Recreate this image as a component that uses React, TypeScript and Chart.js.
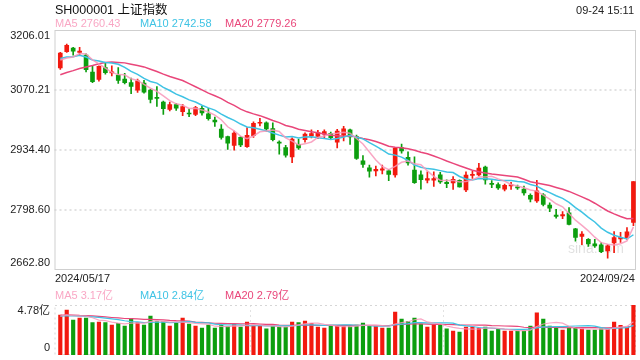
import React, { useEffect, useRef } from "react";
import { Chart, registerables } from "chart.js";
Chart.register(...registerables);

const FONT = '"Liberation Sans", Arial, "Noto Sans CJK SC", sans-serif';
const RED = "#f2190f";
const GREEN = "#0c9e0e";
const MA5_COLOR = "rgba(248,150,186,0.85)";
const MA10_COLOR = "#3fc3e4";
const MA20_COLOR = "#e9467a";

const titleText = "SH000001 上证指数";
const timeText = "09-24 15:11";
const priceLegend = ["MA5 2760.43", "MA10 2742.58", "MA20 2779.26"];
const volumeLegend = ["MA5 3.17亿", "MA10 2.84亿", "MA20 2.79亿"];
const firstDate = "2024/05/17";
const lastDate = "2024/09/24";

const dates = [
  "05/17",
  "05/20", "05/21", "05/22", "05/23", "05/24",
  "05/27", "05/28", "05/29", "05/30", "05/31",
  "06/03", "06/04", "06/05", "06/06", "06/07",
  "06/11", "06/12", "06/13", "06/14",
  "06/17", "06/18", "06/19", "06/20", "06/21",
  "06/24", "06/25", "06/26", "06/27", "06/28",
  "07/01", "07/02", "07/03", "07/04", "07/05",
  "07/08", "07/09", "07/10", "07/11", "07/12",
  "07/15", "07/16", "07/17", "07/18", "07/19",
  "07/22", "07/23", "07/24", "07/25", "07/26",
  "07/29", "07/30", "07/31", "08/01", "08/02",
  "08/05", "08/06", "08/07", "08/08", "08/09",
  "08/12", "08/13", "08/14", "08/15", "08/16",
  "08/19", "08/20", "08/21", "08/22", "08/23",
  "08/26", "08/27", "08/28", "08/29", "08/30",
  "09/02", "09/03", "09/04", "09/05", "09/06",
  "09/09", "09/10", "09/11", "09/12", "09/13",
  "09/18", "09/19", "09/20",
  "09/23", "09/24",
];

const opens = [
  3120, 3157, 3165, 3155, 3149, 3111, 3094, 3121, 3109, 3104,
  3095, 3087, 3070, 3086, 3070, 3052, 3043, 3026, 3037, 3021,
  3017, 3015, 3029, 3016, 3002, 2982, 2965, 2945, 2963, 2942,
  2967, 2995, 2996, 2983, 2952, 2940, 2919, 2947, 2958, 2966,
  2965, 2970, 2972, 2952, 2968, 2980, 2965, 2910, 2894, 2887,
  2889, 2887, 2878, 2940, 2918, 2889, 2878, 2866, 2866, 2878,
  2861, 2860, 2866, 2844, 2877, 2878, 2896, 2859, 2856, 2846,
  2853, 2851, 2846, 2832, 2819, 2833, 2810, 2787, 2785, 2792,
  2756, 2739, 2732, 2722, 2720, 2706, 2724, 2733, 2736, 2770.75,
];
const highs = [
  3155.5, 3174.27, 3167, 3167, 3152, 3125, 3125, 3131, 3125, 3121,
  3108, 3097, 3095, 3092, 3072, 3078, 3045, 3043, 3040, 3038,
  3027, 3033, 3033, 3029, 3009, 2992, 2966, 2977, 2965, 2985,
  2998, 3006, 2998, 2996, 2955, 2945, 2962, 2959, 2973, 2980,
  2979, 2980, 2975, 2981, 2988, 2982, 2968, 2922, 2900, 2898,
  2900, 2890, 2940, 2948, 2930, 2919, 2887, 2885, 2885, 2884,
  2867, 2874, 2867, 2885, 2886, 2904, 2898, 2865, 2860, 2857,
  2861, 2855, 2853, 2835, 2866, 2836, 2815, 2800, 2795, 2804,
  2757, 2750, 2734, 2732, 2725, 2721, 2750, 2748, 2759, 2863.13,
];
const lows = [
  3117, 3155, 3149, 3150, 3111, 3087, 3090, 3106, 3102, 3085,
  3084, 3062, 3065, 3063, 3041, 3033, 3015, 3023, 3024, 3012,
  3010, 3012, 3013, 3002, 2988, 2959, 2936, 2934, 2942, 2940,
  2963, 2989, 2977, 2955, 2925, 2918, 2906, 2936, 2952, 2962,
  2960, 2962, 2958, 2939, 2955, 2947, 2913, 2895, 2873, 2876,
  2880, 2865, 2873, 2927, 2900, 2859, 2846, 2860, 2852, 2859,
  2849, 2845, 2850, 2840, 2870, 2876, 2857, 2849, 2845, 2842,
  2845, 2845, 2832, 2817, 2816, 2808, 2795, 2780, 2779, 2765,
  2728, 2720, 2716, 2714, 2702, 2689.7, 2702, 2725, 2732, 2763,
];
const closes = [
  3154.03, 3171.15, 3157.97, 3158.54, 3116.39, 3088.87, 3124.04, 3109.57, 3111.02, 3091.68,
  3086.81, 3078.49, 3091.2, 3065.4, 3048.79, 3051.28, 3028.05, 3037.47, 3028.92, 3032.63,
  3015.89, 3030.25, 3018.05, 3005.44, 2998.14, 2963.1, 2950.0, 2972.53, 2945.85, 2967.4,
  2994.73, 2997.01, 2982.38, 2957.57, 2949.94, 2922.45, 2959.37, 2939.36, 2970.39, 2971.3,
  2974.01, 2976.3, 2962.58, 2977.13, 2982.31, 2964.22, 2915.37, 2901.95, 2886.43, 2890.9,
  2891.85, 2879.3, 2938.75, 2932.39, 2905.34, 2860.7, 2867.28, 2869.9, 2869.83, 2862.19,
  2858.2, 2867.95, 2850.65, 2877.36, 2879.43, 2893.67, 2866.66, 2856.58, 2848.77, 2854.37,
  2855.52, 2848.73, 2837.43, 2823.11, 2842.21, 2811.04, 2802.98, 2784.28, 2788.22, 2765.81,
  2736.49, 2744.19, 2721.8, 2717.12, 2704.09, 2717.28, 2736.02, 2736.81, 2748.92, 2863.13,
];
// closes of the 19 sessions before 2024/05/17 (needed for the moving averages)
const priorCloses = [
  3071.38, 3074.22, 3065.26, 3044.6, 3021.98, 3044.82, 3052.9, 3088.64, 3113.04, 3104.82,
  3140.72, 3147.74, 3128.48, 3154.32, 3154.55, 3148.02, 3145.77, 3119.9, 3122.4,
];

// volume, 亿
const volumes = [
  3.82, 4.3, 3.35, 3.54, 3.54, 3.09, 3.15, 3.09, 2.87, 3.03,
  2.77, 3.51, 3.09, 2.87, 3.73, 3.19, 3.19, 2.77, 3.03, 3.54,
  2.96, 2.77, 2.58, 2.87, 2.58, 2.84, 2.74, 2.93, 2.68, 3.15,
  2.87, 2.77, 2.49, 2.77, 2.68, 2.68, 3.15, 3.09, 3.25, 3.03,
  2.68, 2.58, 2.77, 2.77, 2.71, 2.71, 2.87, 3.06, 2.77, 2.77,
  2.58, 2.58, 4.11, 3.44, 3.19, 3.54, 2.96, 2.68, 2.87, 2.87,
  2.49, 2.29, 2.2, 2.68, 2.68, 2.58, 2.68, 2.29, 2.49, 2.29,
  2.29, 2.29, 2.29, 2.77, 4.02, 3.44, 2.77, 2.58, 2.39, 2.58,
  2.58, 2.49, 2.39, 2.39, 2.49, 2.49, 3.15, 2.84, 2.68, 4.78,
];
// estimated volumes of the 19 sessions before 2024/05/17
const priorVolumes = [
  3.6, 3.9, 4.1, 3.8, 3.7, 4.0, 4.2, 3.9, 3.8, 4.0,
  3.7, 3.6, 3.8, 3.7, 3.6, 3.7, 3.8, 3.6, 3.7,
];

const priceTicks = [3206.01, 3070.21, 2934.4, 2798.6, 2662.8];
const volumeTicks = [4.78, 0];
const volumeTickLabels = ["4.78亿", "0"];
const volumeSplits = [29.5, 59.5];

function movingAverage(prior: number[], values: number[], n: number) {
  const all = prior.concat(values);
  const off = prior.length;
  return values.map((_, i) => {
    let s = 0;
    for (let k = off + i - n + 1; k <= off + i; k++) s += all[k];
    return s / n;
  });
}

const X_MIN = -0.9;
const X_MAX = 89.4;

const panelPlugin = {
  id: "panel",
  beforeDatasetsDraw(chart: any, _args: any, opts: any) {
    const { ctx, chartArea: a, scales } = chart;
    const ys = scales.y;
    ctx.save();
    if (opts.watermark) {
      ctx.font = `14px ${FONT}`;
      ctx.fillStyle = "rgba(0,0,0,0.12)";
      ctx.textAlign = "right";
      ctx.textBaseline = "middle";
      ctx.fillText(opts.watermark, a.right - 12, a.bottom - 21);
    }
    ctx.strokeStyle = "#e2e2e2";
    ctx.lineWidth = 2;
    ctx.setLineDash([2, 3]);
    for (const v of opts.grid || []) {
      const y = Math.round(ys.getPixelForValue(v));
      ctx.beginPath();
      ctx.moveTo(a.left, y);
      ctx.lineTo(a.right, y);
      ctx.stroke();
    }
    for (const v of opts.vgrid || []) {
      const x = Math.round(scales.x.getPixelForValue(v)) + 0.5;
      ctx.lineWidth = 1;
      ctx.beginPath();
      ctx.moveTo(x, a.top);
      ctx.lineTo(x, a.bottom);
      ctx.stroke();
    }
    if (opts.dottedBox) {
      ctx.lineWidth = 1;
      ctx.strokeStyle = "#d6d6d6";
      ctx.strokeRect(a.left + 0.5, a.top + 0.5, a.width - 1, a.height - 1);
    } else {
      ctx.setLineDash([]);
      ctx.lineWidth = 1;
      ctx.strokeStyle = "#cfcfcf";
      ctx.strokeRect(a.left + 0.5, a.top + 0.5, a.width - 1, a.height - 1);
    }
    ctx.setLineDash([]);
    ctx.font = `11px ${FONT}`;
    ctx.fillStyle = "#222";
    ctx.textAlign = "right";
    ctx.textBaseline = "middle";
    const ticks: number[] = opts.ticks || [];
    const labels: string[] = opts.labels || [];
    ticks.forEach((v, i) => {
      let y = ys.getPixelForValue(v);
      if (i === 0) y = a.top + 6;
      else if (i === ticks.length - 1) y = a.bottom - 7;
      ctx.fillText(labels[i], a.left - 4.5, y);
    });
    ctx.restore();
  },
};

export default function App() {
  const priceRef = useRef<HTMLCanvasElement>(null);
  const volRef = useRef<HTMLCanvasElement>(null);

  useEffect(() => {
    const up = closes.map((c, i) => c >= opens[i]);
    const colors = up.map((u) => (u ? RED : GREEN));
    const ma5 = movingAverage(priorCloses, closes, 5);
    const ma10 = movingAverage(priorCloses, closes, 10);
    const ma20 = movingAverage(priorCloses, closes, 20);
    const vma5 = movingAverage(priorVolumes, volumes, 5);
    const vma10 = movingAverage(priorVolumes, volumes, 10);
    const vma20 = movingAverage(priorVolumes, volumes, 20);
    const pts = (arr: number[]) => arr.map((y, i) => ({ x: i, y }));
    const lineDs = (label: string, arr: number[], color: string, w: number) => ({
      type: "line" as const,
      label,
      data: pts(arr),
      borderColor: color,
      borderWidth: w,
      pointRadius: 0,
      fill: false,
      tension: 0,
      order: 0,
    });

    const xScale = { type: "linear" as const, min: X_MIN, max: X_MAX, offset: false, display: false };

    const c1 = new Chart(priceRef.current!, {
      type: "bar",
      data: {
        labels: dates,
        datasets: [
          lineDs("MA5", ma5, MA5_COLOR, 1.5),
          lineDs("MA10", ma10, MA10_COLOR, 1.5),
          lineDs("MA20", ma20, MA20_COLOR, 1.5),
          {
            type: "bar" as const,
            label: "body",
            data: closes.map((c, i) => ({ x: i, y: [opens[i], c] })) as any,
            backgroundColor: colors,
            barThickness: 4,
            minBarLength: 1,
            grouped: false,
            order: 1,
          },
          {
            type: "bar" as const,
            label: "wick",
            data: closes.map((_, i) => ({ x: i, y: [lows[i], highs[i]] })) as any,
            backgroundColor: colors,
            barThickness: 1,
            grouped: false,
            order: 2,
          },
        ],
      },
      options: {
        responsive: false,
        animation: false,
        events: [],
        layout: { padding: { left: 54.5, right: 4, top: 30, bottom: 10 } },
        scales: {
          x: xScale,
          y: { type: "linear", min: priceTicks[priceTicks.length - 1], max: priceTicks[0], display: false },
        },
        plugins: {
          legend: { display: false },
          tooltip: { enabled: false },
          panel: {
            grid: priceTicks.slice(1, -1),
            ticks: priceTicks,
            labels: priceTicks.map((v) => v.toFixed(2)),
            watermark: "sina.com",
          },
        } as any,
      },
      plugins: [panelPlugin],
    });

    const c2 = new Chart(volRef.current!, {
      type: "bar",
      data: {
        labels: dates,
        datasets: [
          lineDs("MA5", vma5, MA5_COLOR, 1.2),
          lineDs("MA10", vma10, MA10_COLOR, 1.2),
          lineDs("MA20", vma20, MA20_COLOR, 1.2),
          {
            type: "bar" as const,
            label: "volume",
            data: volumes.map((v, i) => ({ x: i, y: v })) as any,
            backgroundColor: colors,
            barThickness: 3.5,
            grouped: false,
            order: 1,
          },
        ],
      },
      options: {
        responsive: false,
        animation: false,
        events: [],
        layout: { padding: { left: 54.5, right: 4, top: 20, bottom: 5 } },
        scales: {
          x: xScale,
          y: { type: "linear", min: volumeTicks[1], max: volumeTicks[0], display: false },
        },
        plugins: {
          legend: { display: false },
          tooltip: { enabled: false },
          panel: {
            grid: [],
            vgrid: volumeSplits,
            dottedBox: true,
            ticks: volumeTicks,
            labels: volumeTickLabels,
          },
        } as any,
      },
      plugins: [panelPlugin],
    });

    return () => {
      c1.destroy();
      c2.destroy();
    };
  }, []);

  const text = (content: string, style: React.CSSProperties) => (
    <div
      style={{
        position: "absolute",
        whiteSpace: "nowrap",
        lineHeight: "14px",
        height: 14,
        fontSize: 11,
        color: "#222",
        ...style,
      }}
    >
      {content}
    </div>
  );
  const legendColors = [MA5_COLOR, MA10_COLOR, MA20_COLOR];
  const legendX = [55, 140, 225];

  return (
    <div
      style={{
        position: "fixed",
        left: 0,
        top: 0,
        width: 640,
        height: 360,
        background: "#fff",
        fontFamily: FONT,
        overflow: "hidden",
      }}
    >
      <canvas ref={priceRef} width={640} height={280} style={{ position: "absolute", left: 0, top: 0 }} />
      <canvas ref={volRef} width={640} height={75} style={{ position: "absolute", left: 0, top: 285 }} />
      {text(titleText, { left: 55, top: 3, fontSize: 12.5, color: "#111" })}
      {text(timeText, { right: 6, top: 3, fontSize: 11 })}
      {priceLegend.map((t, i) => text(t, { left: legendX[i], top: 16, color: legendColors[i] }))}
      {text(firstDate, { left: 55, top: 271 })}
      {text(lastDate, { right: 5, top: 271 })}
      {volumeLegend.map((t, i) => text(t, { left: legendX[i], top: 287.5, color: legendColors[i] }))}
    </div>
  );
}
